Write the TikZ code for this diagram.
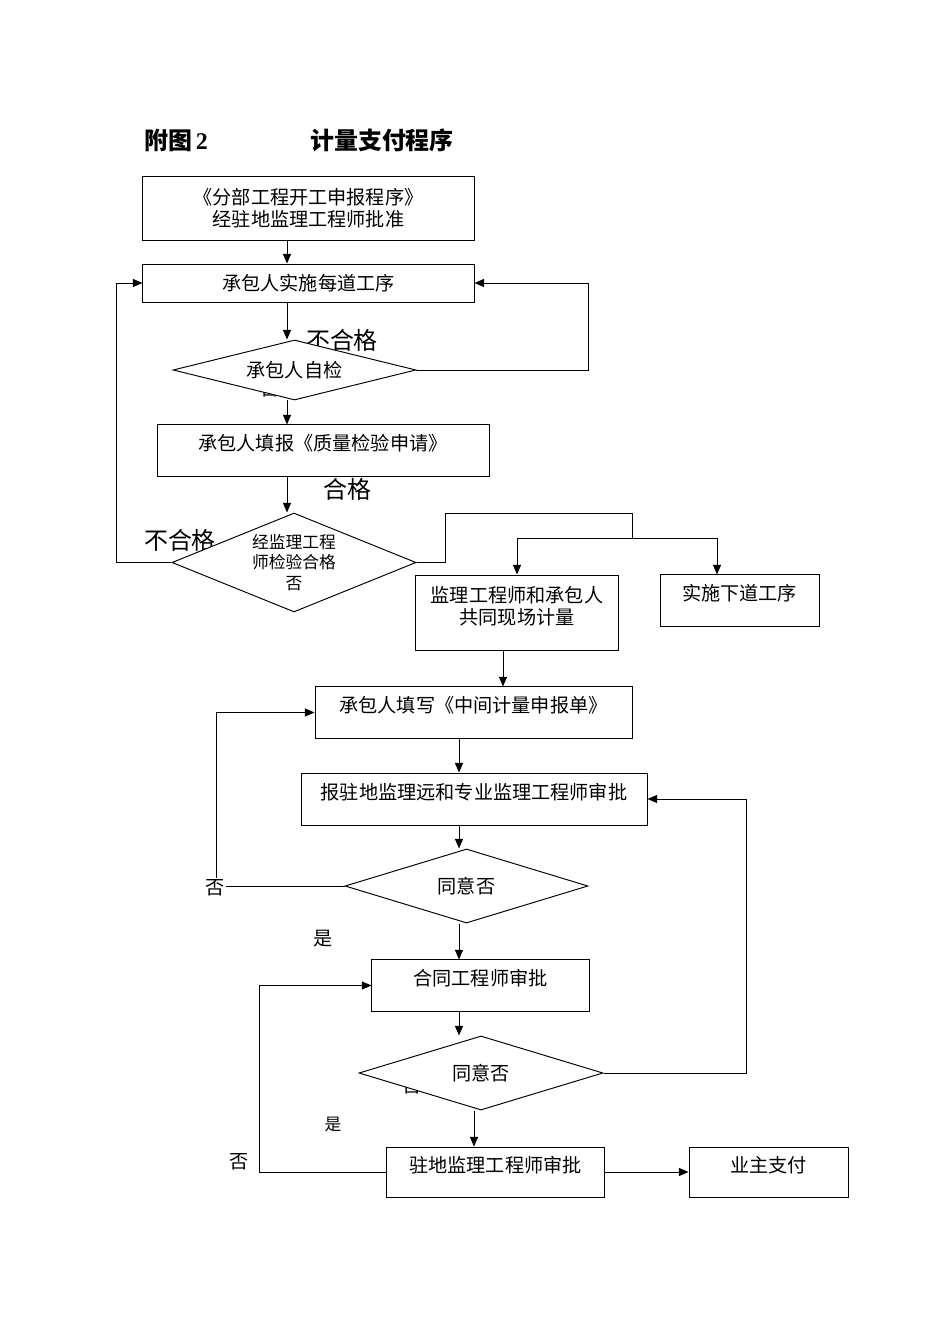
\documentclass[tikz,border=0pt]{standalone}
\usepackage{fontspec}
\setmainfont{Liberation Serif}
\newfontfamily\cjk{Noto Sans CJK SC}
\usetikzlibrary{shapes.geometric,arrows.meta}

\begin{document}
\begin{tikzpicture}[x=0.6265pt, y=-0.6265pt, line width=0.6pt,
        >={Triangle[length=6pt,width=5pt]}]
      \tikzstyle{box} = [draw, rectangle, fill=white, inner sep=0pt, align=center,
        font=\cjk\fontsize{12}{13.8}\selectfont]
      \tikzstyle{raised} = [text height=10pt, text depth=10pt]
      \tikzstyle{check} = [draw, diamond, fill=white, inner sep=0pt, shape aspect=3,
        align=center, font=\cjk\fontsize{12}{13.8}\selectfont]
      \tikzstyle{tag} = [inner sep=0pt, font=\cjk\fontsize{15}{15}\selectfont]
      \tikzstyle{smalltag} = [inner sep=0pt, font=\cjk\fontsize{12}{12}\selectfont]
      \useasboundingbox (0,0) rectangle (950,1344);
      \node (figno) [inner sep=0pt] at (176,140) {\fontsize{15}{15}\selectfont\bfseries\cjk 附图\,\rmfamily 2};
      \node (title) [inner sep=0pt] at (382,140) {\fontsize{15}{15}\selectfont\bfseries\cjk 计量支付程序};
      \coordinate (col1) at (287,0);
      \coordinate (col2) at (503,0);
      \coordinate (col3) at (459,0);
      \coordinate (col4) at (474,0);
      \coordinate (col5) at (717,0);
      \coordinate (left1) at (116,0);
      \coordinate (left2) at (216,0);
      \coordinate (left3) at (259,0);
      \coordinate (right1) at (588,0);
      \coordinate (right2) at (746,0);
      \coordinate (bend) at (445,513);
      \coordinate (split) at (632,538);
      \node (failA) [tag] at (342,340) {不合格};
      \node (noA) [smalltag] at (270,389) {否};
      \node (passB) [tag] at (347,489) {合格};
      \node (failB) [tag] at (180,540) {不合格};
      \node (noD) [smalltag] at (412,1086) {否};
      \node (start) [box, minimum width=207.4pt, minimum height=39.5pt] at (308.5,208.5)
        {《分部工程开工申报程序》\\经驻地监理工程师批准};
      \node (work) [box, minimum width=207.4pt, minimum height=23.8pt] at (308.5,283) {承包人实施每道工序};
      \node (selfcheck) [check, minimum width=152.2pt, minimum height=37.6pt] at (294.5,370) {承包人自检};
      \node (apply) [box, raised, minimum width=208pt, minimum height=32pt] at (323,450.5) {承包人填报《质量检验申请》};
      \node (inspect) [check, minimum width=152.9pt, minimum height=62pt, shape aspect=2.5,
        font=\cjk\fontsize{10.5}{13}\selectfont] at (294,562.5) {经监理工程\\师检验合格\\否};
      \node (measure) [box, text height=25pt, text depth=10pt, minimum width=126.6pt, minimum height=47pt] at (517,612.5)
        {监理工程师和承包人\\共同现场计量};
      \node (next) [box, raised, minimum width=99.6pt, minimum height=32pt] at (739.5,600.5) {实施下道工序};
      \node (fill) [box, raised, minimum width=198.6pt, minimum height=32pt] at (473.5,712.5) {承包人填写《中间计量申报单》};
      \node (report) [box, raised, minimum width=216.8pt, minimum height=32.6pt] at (474,799) {报驻地监理远和专业监理工程师审批};
      \node (agreeA) [check, minimum width=152.2pt, minimum height=46.4pt] at (466.5,886) {同意否};
      \node (contract) [box, raised, minimum width=136pt, minimum height=32pt] at (480.5,985.5) {合同工程师审批};
      \node (agreeB) [check, minimum width=152.9pt, minimum height=46.4pt] at (481,1073) {同意否};
      \node (resident) [box, raised, minimum width=136pt, minimum height=31.3pt] at (495.5,1172) {驻地监理工程师审批};
      \node (owner) [box, raised, minimum width=99.6pt, minimum height=31.3pt] at (768.5,1172) {业主支付};
      \node (yesA) [smalltag] at (323,939) {是};
      \node (yesB) [inner sep=0pt, font=\cjk\fontsize{10.5}{10.5}\selectfont] at (333,1124) {是};
      \node (noE) [smalltag] at (239,1162) {否};
      \draw[->] (start.south -| col1) -- (work.north -| col1);
      \draw[->] (work.south -| col1) -- (selfcheck.north -| col1);
      \draw[->] (selfcheck.south -| col1) -- (apply.north -| col1);
      \draw[->] (apply.south -| col1) -- (inspect.north -| col1);
      \draw[->] (selfcheck.east) -- (selfcheck.east -| right1) |- (work.east);
      \draw[->] (inspect.west) -- (inspect.west -| left1) |- (work.west);
      \draw (inspect.east) -| (bend) -| (split);
      \draw[->] (split) -| (measure.north);
      \draw[->] (split) -| (next.north -| col5);
      \draw[->] (measure.south -| col2) -- (fill.north -| col2);
      \draw[->] (fill.south -| col3) -- (report.north -| col3);
      \draw[->] (report.south -| col3) -- (agreeA.north -| col3);
      \draw[->] (agreeA.south -| col3) -- (contract.north -| col3);
      \draw[->] (contract.south -| col3) -- (agreeB.north -| col3);
      \draw[->] (agreeB.south -| col4) -- (resident.north -| col4);
      \draw[->] (agreeA.west) -- (agreeA.west -| left2) |- (fill.west);
      \draw[->] (agreeB.east) -- (agreeB.east -| right2) |- (report.east);
      \draw[->] (resident.west) -- (resident.west -| left3) |- (contract.west);
      \draw[->] (resident.east) -- (owner.west);
      \node (noC) [smalltag, fill=white, inner sep=1pt] at (215,888) {否};
    \end{tikzpicture}
\end{document}
